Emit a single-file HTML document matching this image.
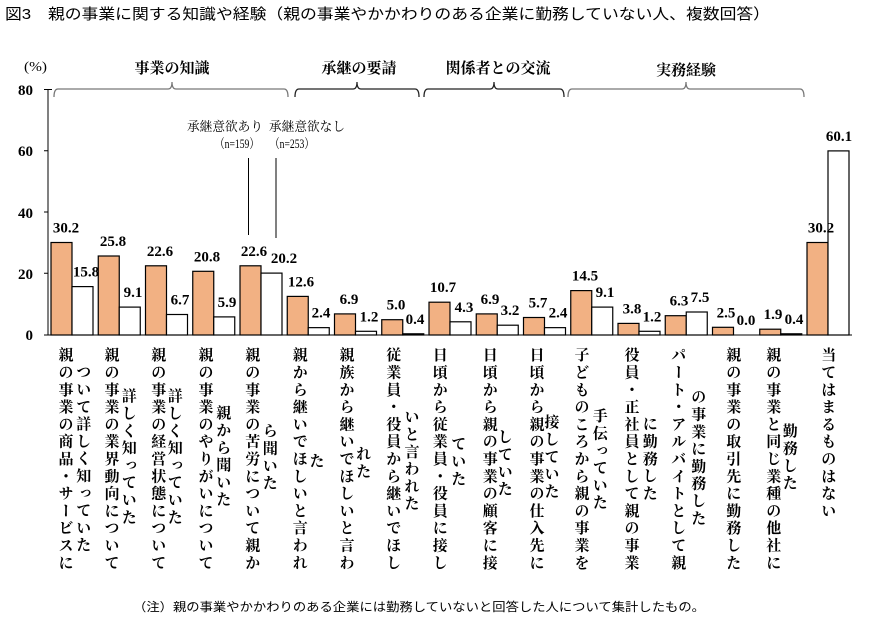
<!DOCTYPE html>
<html><head><meta charset="utf-8">
<style>
body{margin:0;background:#fff;width:882px;height:626px;overflow:hidden;position:relative;font-family:"Liberation Sans","Noto Sans CJK JP",sans-serif;}
.v{position:absolute;writing-mode:vertical-rl;font-family:"Liberation Serif","Noto Serif CJK SC","Noto Sans CJK JP",serif;font-weight:bold;font-size:15px;line-height:15px;letter-spacing:2.3px;color:#000;white-space:nowrap;}
svg{position:absolute;left:0;top:0}
</style></head><body>
<svg width="882" height="626" viewBox="0 0 882 626">
<text x="5" y="19" font-size="15" textLength="765" lengthAdjust="spacingAndGlyphs" font-family="Liberation Sans, Noto Sans CJK JP, sans-serif">図3　親の事業に関する知識や経験（親の事業やかかわりのある企業に勤務していない人、複数回答）</text>
<text x="24" y="71" font-size="14" textLength="23" lengthAdjust="spacingAndGlyphs" font-family="Liberation Serif, Noto Serif CJK SC, serif">(%)</text>
<g font-family="Liberation Serif, Noto Serif CJK SC, serif" font-weight="bold" font-size="15" text-anchor="middle">
<text x="172" y="73">事業の知識</text>
<text x="359" y="73">承継の要請</text>
<text x="498" y="73">関係者との交流</text>
<text x="686" y="75">実務経験</text>
</g>
<g fill="none" stroke-width="1.3">
<path d="M54,97 Q54,89 58,89 L168,89 Q172,89 172,82 Q172,89 176,89 L284,89 Q288,89 288,97" stroke="#777"/>
<path d="M295,97 Q295,89 299,89 L353,89 Q357,89 357,82 Q357,89 361,89 L415,89 Q419,89 419,97" stroke="#222"/>
<path d="M424,97 Q424,89 428,89 L490,89 Q494,89 494,82 Q494,89 498,89 L560,89 Q564,89 564,97" stroke="#222"/>
<path d="M568,97 Q568,89 572,89 L682,89 Q686,89 686,82 Q686,89 690,89 L800,89 Q804,89 804,97" stroke="#777"/>
</g>
<g font-family="Liberation Serif, serif" font-weight="bold" font-size="15" text-anchor="end">
<text x="33" y="95">80</text>
<text x="33" y="156">60</text>
<text x="33" y="218">40</text>
<text x="33" y="279">20</text>
<text x="33" y="340">0</text>
</g>
<g stroke="#000" stroke-width="1">
<line x1="48" y1="89" x2="48" y2="335"/>
<line x1="48" y1="335" x2="852" y2="335"/>
<line x1="44" y1="89.5" x2="52" y2="89.5"/>
<line x1="44" y1="150.75" x2="48" y2="150.75"/>
<line x1="44" y1="212" x2="48" y2="212"/>
<line x1="44" y1="273.25" x2="48" y2="273.25"/>
<line x1="44" y1="335" x2="48" y2="335"/>
<line x1="248.5" y1="158" x2="248.5" y2="235"/>
<line x1="276" y1="158" x2="276" y2="238"/>
</g>
<g font-size="13" font-family="Liberation Serif, Noto Serif CJK SC, serif">
<text x="187" y="131" textLength="76" lengthAdjust="spacingAndGlyphs">承継意欲あり</text>
<text x="215" y="148" textLength="44" lengthAdjust="spacingAndGlyphs">（n=159）</text>
<text x="269" y="131" textLength="76" lengthAdjust="spacingAndGlyphs">承継意欲なし</text>
<text x="270" y="148" textLength="44" lengthAdjust="spacingAndGlyphs">（n=253）</text>
</g>
<g stroke="#000" stroke-width="1.2">
<g fill="#F2B183">
<rect x="51" y="242.5" width="21" height="92.5"/>
<rect x="98.25" y="256" width="21" height="79"/>
<rect x="145.5" y="265.8" width="21" height="69.2"/>
<rect x="192.75" y="271.3" width="21" height="63.7"/>
<rect x="240" y="265.8" width="21" height="69.2"/>
<rect x="287.25" y="296.4" width="21" height="38.6"/>
<rect x="334.5" y="313.9" width="21" height="21.1"/>
<rect x="381.75" y="319.7" width="21" height="15.3"/>
<rect x="429" y="302.2" width="21" height="32.8"/>
<rect x="476.25" y="313.9" width="21" height="21.1"/>
<rect x="523.5" y="317.5" width="21" height="17.5"/>
<rect x="570.75" y="290.6" width="21" height="44.4"/>
<rect x="618" y="323.4" width="21" height="11.6"/>
<rect x="665.25" y="315.7" width="21" height="19.3"/>
<rect x="712.5" y="327.3" width="21" height="7.7"/>
<rect x="759.75" y="329.2" width="21" height="5.8"/>
<rect x="807" y="242.5" width="21" height="92.5"/>
</g>
<g fill="#fff">
<rect x="72" y="286.6" width="21" height="48.4"/>
<rect x="119.25" y="307.1" width="21" height="27.9"/>
<rect x="166.5" y="314.5" width="21" height="20.5"/>
<rect x="213.75" y="316.9" width="21" height="18.1"/>
<rect x="261" y="273.1" width="21" height="61.9"/>
<rect x="308.25" y="327.65" width="21" height="7.35"/>
<rect x="355.5" y="331.3" width="21" height="3.7"/>
<rect x="402.75" y="333.8" width="21" height="1.2"/>
<rect x="450" y="321.8" width="21" height="13.2"/>
<rect x="497.25" y="325.2" width="21" height="9.8"/>
<rect x="544.5" y="327.65" width="21" height="7.35"/>
<rect x="591.75" y="307.1" width="21" height="27.9"/>
<rect x="639" y="331.3" width="21" height="3.7"/>
<rect x="686.25" y="312" width="21" height="23"/>
<rect x="780.75" y="333.8" width="21" height="1.2"/>
<rect x="828" y="150.9" width="21" height="184.1"/>
</g>
</g>
<g font-family="Liberation Serif, serif" font-weight="bold" font-size="15" text-anchor="middle">
<text x="66" y="232.5">30.2</text><text x="86" y="276.6">15.8</text>
<text x="113" y="246">25.8</text><text x="133" y="297.1">9.1</text>
<text x="160" y="255.8">22.6</text><text x="180" y="304.5">6.7</text>
<text x="207" y="261.3">20.8</text><text x="227" y="306.9">5.9</text>
<text x="254" y="255.8">22.6</text><text x="284" y="263.1">20.2</text>
<text x="301" y="286.4">12.6</text><text x="321" y="317.65">2.4</text>
<text x="349" y="303.9">6.9</text><text x="369" y="321.3">1.2</text>
<text x="396" y="309.7">5.0</text><text x="415" y="323.8">0.4</text>
<text x="443" y="292.2">10.7</text><text x="464" y="311.8">4.3</text>
<text x="490" y="303.9">6.9</text><text x="510" y="315.2">3.2</text>
<text x="538" y="307.5">5.7</text><text x="558" y="317.65">2.4</text>
<text x="585" y="280.6">14.5</text><text x="605" y="297.1">9.1</text>
<text x="632" y="313.4">3.8</text><text x="652" y="321.3">1.2</text>
<text x="679" y="305.7">6.3</text><text x="700" y="302">7.5</text>
<text x="726" y="317.3">2.5</text><text x="746" y="325">0.0</text>
<text x="773" y="319.2">1.9</text><text x="794" y="323.8">0.4</text>
<text x="821" y="232.5">30.2</text><text x="839" y="140.9">60.1</text>
</g>
<text x="133" y="611" font-size="12" textLength="572" lengthAdjust="spacingAndGlyphs" font-family="Liberation Sans, Noto Sans CJK JP, sans-serif">（注）親の事業やかかわりのある企業には勤務していないと回答した人について集計したもの。</text>
</svg>

<div class="v" style="left:56.5px;top:346.5px">親の事業の商品・サービスに</div>
<div class="v" style="left:74.2px;top:364px">ついて詳しく知っていた</div>
<div class="v" style="left:102.5px;top:346.5px">親の事業の業界動向について</div>
<div class="v" style="left:119.8px;top:387.5px">詳しく知っていた</div>
<div class="v" style="left:149.2px;top:346.5px">親の事業の経営状態について</div>
<div class="v" style="left:165.8px;top:387.5px">詳しく知っていた</div>
<div class="v" style="left:196.5px;top:346.5px">親の事業のやりがいについて</div>
<div class="v" style="left:214.2px;top:405px">親から聞いた</div>
<div class="v" style="left:243.2px;top:346.5px">親の事業の苦労について親か</div>
<div class="v" style="left:260.8px;top:422.5px">ら聞いた</div>
<div class="v" style="left:290.8px;top:346.5px">親から継いでほしいと言われ</div>
<div class="v" style="left:307.5px;top:452.5px">た</div>
<div class="v" style="left:337.5px;top:346.5px">親族から継いでほしいと言わ</div>
<div class="v" style="left:354.2px;top:445.5px">れた</div>
<div class="v" style="left:384.2px;top:346.5px">従業員・役員から継いでほし</div>
<div class="v" style="left:402.5px;top:409px">いと言われた</div>
<div class="v" style="left:430.8px;top:346.5px">日頃から従業員・役員に接し</div>
<div class="v" style="left:449.2px;top:435.5px">ていた</div>
<div class="v" style="left:480.8px;top:346.5px">日頃から親の事業の顧客に接</div>
<div class="v" style="left:495.8px;top:429px">していた</div>
<div class="v" style="left:527.5px;top:346.5px">日頃から親の事業の仕入先に</div>
<div class="v" style="left:542.5px;top:414px">接していた</div>
<div class="v" style="left:572.5px;top:346.5px">子どものころから親の事業を</div>
<div class="v" style="left:590.8px;top:407.5px">手伝っていた</div>
<div class="v" style="left:622.5px;top:346.5px">役員・正社員として親の事業</div>
<div class="v" style="left:640.8px;top:415.5px">に勤務した</div>
<div class="v" style="left:669.2px;top:346.5px">パート・アルバイトとして親</div>
<div class="v" style="left:689.2px;top:389px">の事業に勤務した</div>
<div class="v" style="left:724.2px;top:346.5px">親の事業の取引先に勤務した</div>
<div class="v" style="left:764.2px;top:346.5px">親の事業と同じ業種の他社に</div>
<div class="v" style="left:780.8px;top:422.5px">勤務した</div>
<div class="v" style="left:819.2px;top:346.5px">当てはまるものはない</div>
</body></html>
